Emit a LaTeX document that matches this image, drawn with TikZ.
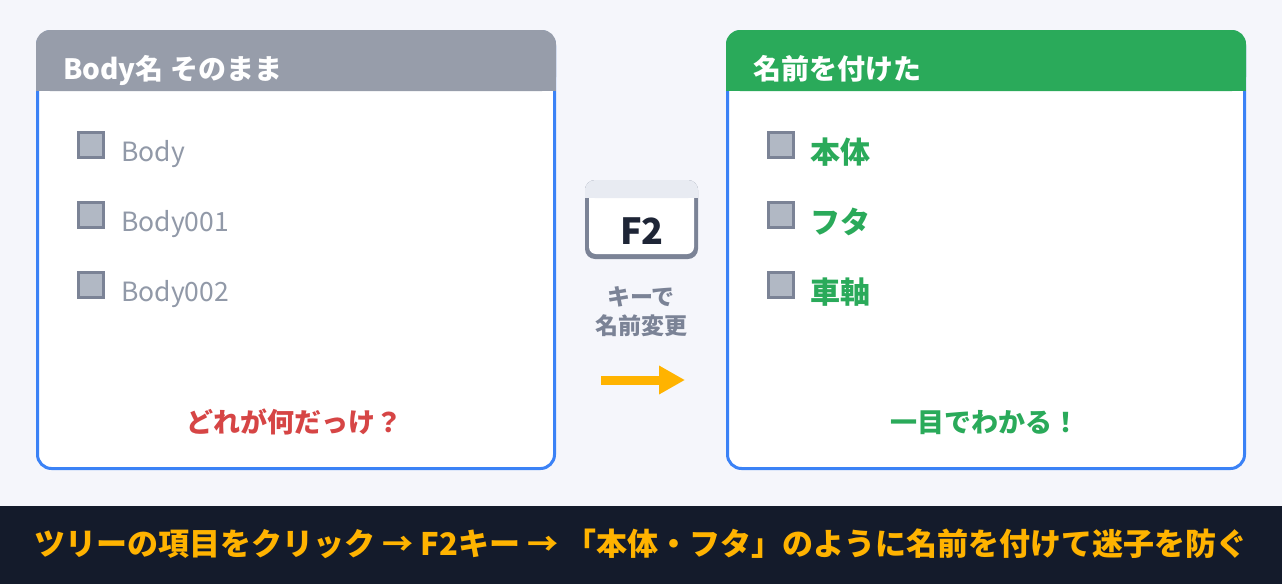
\documentclass[tikz,border=0pt]{standalone}
\usepackage{fontspec}
\setmainfont{Noto Sans CJK JP}
\usetikzlibrary{arrows.meta}
\definecolor{bgc}{HTML}{F5F6FB}
\definecolor{cardblue}{HTML}{3B82F6}
\definecolor{headgrey}{HTML}{979DAA}
\definecolor{headgreen}{HTML}{2AAA5A}
\definecolor{chkfill}{HTML}{B1B8C4}
\definecolor{chkline}{HTML}{7B8396}
\definecolor{greytext}{HTML}{9199A8}
\definecolor{redtext}{HTML}{D64545}
\definecolor{strip}{HTML}{E8EBF2}
\definecolor{keytext}{HTML}{1E2536}
\definecolor{amber}{HTML}{FFB300}
\definecolor{barc}{HTML}{141B2B}
\tikzset{
  card/.style={draw=cardblue, line width=3pt, fill=white, rounded corners=14pt},
  chk/.style={draw=chkline, fill=chkfill, line width=3pt, minimum size=25pt, inner sep=0pt},
  headtxt/.style={anchor=base west, inner sep=0pt, text=white, font=\fontsize{28}{32}\selectfont\bfseries},
  itemgrey/.style={anchor=base west, inner sep=0pt, text=greytext, font=\fontsize{26.5}{30}\selectfont},
  itemgreen/.style={anchor=base west, inner sep=0pt, text=headgreen, font=\fontsize{30}{34}\selectfont\bfseries},
  caption/.style={anchor=base, inner sep=0pt, font=\fontsize{27}{31}\selectfont\bfseries},
  keylabel/.style={anchor=base, inner sep=0pt, text=chkline, font=\fontsize{23}{27}\selectfont\bfseries},
}
\begin{document}
\begin{tikzpicture}[x=1pt,y=-1pt]
\useasboundingbox (0,0) rectangle (1282,584);
\fill[bgc] (0,0) rectangle (1282,584);
% bottom bar
\fill[barc] (0,506) rectangle (1282,584);
\node[anchor=base, inner sep=0pt, text=amber, font=\fontsize{31}{36}\selectfont\bfseries] (footer) at (641,555)
  {ツリーの項目をクリック → F2キー → 「本体・フタ」のように名前を付けて迷子を防ぐ};

% left card
\draw[card] (37.5,31.5) rectangle (554.5,468.5);
\fill[headgrey, rounded corners=14pt] (36,30) rectangle (556,91);
\fill[headgrey] (36,70) rectangle (556,91);
\node[headtxt] (lhead) at (63,79) {Body名 そのまま};
\node[chk] (lc1) at (90.5,144.5) {};
\node[chk] (lc2) at (90.5,214.5) {};
\node[chk] (lc3) at (90.5,284.5) {};
\node[itemgrey] (lt1) at (121,161) {Body};
\node[itemgrey] (lt2) at (121,231) {Body001};
\node[itemgrey] (lt3) at (121,301) {Body002};
\node[caption, text=redtext] (lcap) at (294,432) {どれが何だっけ？};

% right card
\draw[card] (727.5,31.5) rectangle (1244.5,468.5);
\fill[headgreen, rounded corners=14pt] (726,30) rectangle (1246,91);
\fill[headgreen] (726,70) rectangle (1246,91);
\node[headtxt] (rhead) at (753,79) {名前を付けた};
\node[chk] (rc1) at (780.5,144.5) {};
\node[chk] (rc2) at (780.5,214.5) {};
\node[chk] (rc3) at (780.5,284.5) {};
\node[itemgreen] (rt1) at (810,163) {本体};
\node[itemgreen] (rt2) at (810,233) {フタ};
\node[itemgreen] (rt3) at (810,303) {車軸};
\node[caption, text=headgreen] (rcap) at (985,432) {一目でわかる！};

% F2 key
\fill[chkline, rounded corners=10pt] (585,180) rectangle (698,259);
\fill[white, rounded corners=7pt] (589,188) rectangle (694,254);
\fill[strip, rounded corners=10pt] (585,180) rectangle (698,198);
\fill[strip] (585,190) rectangle (698,198);
\node[anchor=base, inner sep=0pt, text=keytext, font=\fontsize{36}{40}\selectfont\bfseries] (f2) at (642,244) {F2};
\node[keylabel] (kl1) at (641,305) {キーで};
\node[keylabel] (kl2) at (641,334) {名前変更};

% arrow
\coordinate (as) at (601,380);
\coordinate (ae) at (685,380);
\draw[amber, line width=9pt, -{Triangle[length=26pt,width=27pt]}] (as) -- (ae);
\end{tikzpicture}
\end{document}
